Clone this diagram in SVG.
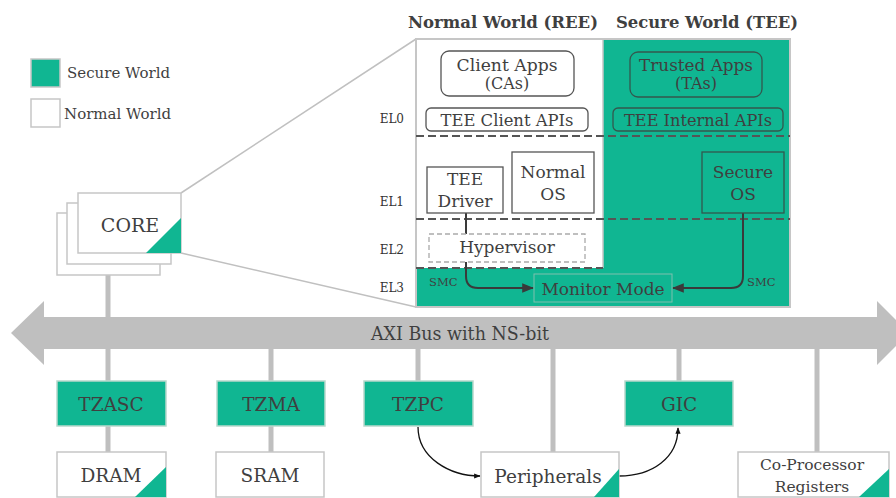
<svg xmlns="http://www.w3.org/2000/svg" width="896" height="498" viewBox="0 0 896 498">
<defs>
<style>
text{font-family:"DejaVu Serif","Liberation Serif",serif;fill:#3f3f3f}
.g{fill:#10b692}
.box{fill:#fff;stroke:#c6c6c6;stroke-width:1.5}
.gbox{fill:#10b692;stroke:#b8d8cc;stroke-width:1.5}
.nb{fill:#fff;stroke:#555;stroke-width:1.3}
.sb{fill:none;stroke:#33584e;stroke-width:1.3}
.dash{stroke:#555;stroke-width:2.2;stroke-dasharray:8 4;fill:none}
.conn{stroke:#bfbfbf;stroke-width:5;fill:none}
.zoom{stroke:#c0c0c0;stroke-width:1.5;fill:none}
.t18{font-size:18.5px}
.t16{font-size:17px}
.t15{font-size:16px}
.el{font-size:12px;fill:#333}
.hdr{font-size:16px;font-weight:bold}
</style>
<marker id="ah" viewBox="0 0 10 10" refX="9" refY="5" markerWidth="6" markerHeight="6" orient="auto"><path d="M0,1 L10,5 L0,9 z" fill="#3a3a3a"/></marker>
<marker id="ahk" viewBox="0 0 10 10" refX="9" refY="5" markerWidth="5" markerHeight="5" orient="auto"><path d="M0,1 L10,5 L0,9 z" fill="#111"/></marker>
</defs>

<g id="legend">
<rect x="31" y="59" width="29" height="28" class="g" stroke="#c6c6c6" stroke-width="1.5"/>
<text x="67" y="78" font-size="15">Secure World</text>
<rect x="31" y="99" width="29" height="28" fill="#fff" stroke="#c6c6c6" stroke-width="1.5"/>
<text x="64" y="119" font-size="15">Normal World</text>
</g>

<g id="connectors">
<line x1="181" y1="193" x2="416" y2="39" class="zoom"/>
<line x1="181" y1="253" x2="416" y2="307" class="zoom"/>
<line x1="108" y1="275" x2="108" y2="318" class="conn"/>
<line x1="108" y1="348" x2="108" y2="381" class="conn"/>
<line x1="108" y1="426" x2="108" y2="452" class="conn"/>
<line x1="271" y1="348" x2="271" y2="381" class="conn"/>
<line x1="271" y1="426" x2="271" y2="452" class="conn"/>
<line x1="418" y1="348" x2="418" y2="381" class="conn"/>
<line x1="553" y1="348" x2="553" y2="452" class="conn"/>
<line x1="679" y1="348" x2="679" y2="381" class="conn"/>
<line x1="817" y1="348" x2="817" y2="452" class="conn"/>
<path d="M418,427 C418,458 450,476 480,476" stroke="#111" stroke-width="1.3" fill="none" marker-end="url(#ahk)"/>
<path d="M619,476 C652,476 678,458 678,428" stroke="#111" stroke-width="1.3" fill="none" marker-end="url(#ahk)"/>
</g>

<g id="bus">
<polygon points="11,333 44,301 44,317 877,317 877,301 909,333 877,365 877,349 44,349 44,365" fill="#bfbfbf"/>
<text x="460" y="340" font-family="'DejaVu Sans','Liberation Sans',sans-serif" font-size="18" text-anchor="middle" textLength="178" lengthAdjust="spacingAndGlyphs">AXI Bus with NS-bit</text>
</g>

<g id="core">
<rect x="57" y="213" width="103" height="62" class="box"/>
<rect x="67" y="203" width="104" height="61" class="box"/>
<rect x="78" y="193" width="103" height="60" class="box"/>
<polygon points="181,218 181,253 146,253" class="g"/>
<text x="130" y="232" font-size="19" text-anchor="middle">CORE</text>
</g>

<g id="panel">
<rect x="416" y="39" width="374" height="268" fill="#fff"/>
<rect x="603" y="39" width="187" height="268" class="g"/>
<rect x="416" y="268" width="187" height="39" class="g"/>
<rect x="416" y="39" width="374" height="268" fill="none" stroke="#c6c6c6" stroke-width="2"/>
<line x1="603" y1="39" x2="603" y2="268" stroke="#c6c6c6" stroke-width="1.5"/>
<line x1="416" y1="136" x2="790" y2="136" class="dash"/>
<line x1="416" y1="219" x2="790" y2="219" class="dash"/>
<line x1="416" y1="268" x2="603" y2="268" class="dash"/>
<text x="503" y="28" class="hdr" text-anchor="middle" textLength="190" lengthAdjust="spacingAndGlyphs">Normal World (REE)</text>
<text x="707" y="28" class="hdr" text-anchor="middle" textLength="182" lengthAdjust="spacingAndGlyphs">Secure World (TEE)</text>
<text x="404" y="123" class="el" text-anchor="end">EL0</text>
<text x="404" y="206" class="el" text-anchor="end">EL1</text>
<text x="404" y="254" class="el" text-anchor="end">EL2</text>
<text x="404" y="292" class="el" text-anchor="end">EL3</text>
</g>

<g id="client-apps">
<rect x="441" y="51" width="133" height="45" rx="8" class="nb"/>
<text x="507" y="71" class="t15" text-anchor="middle" textLength="101" lengthAdjust="spacingAndGlyphs">Client Apps</text>
<text x="507" y="89" class="t15" text-anchor="middle">(CAs)</text>
</g>
<g id="tee-client-apis">
<rect x="426" y="108" width="162" height="23" rx="5" class="nb"/>
<text x="507" y="126" class="t16" text-anchor="middle" textLength="133" lengthAdjust="spacingAndGlyphs">TEE Client APIs</text>
</g>
<g id="trusted-apps">
<rect x="630" y="52" width="132" height="45" rx="8" class="sb"/>
<text x="696" y="71" class="t15" text-anchor="middle" textLength="114" lengthAdjust="spacingAndGlyphs">Trusted Apps</text>
<text x="696" y="89" class="t15" text-anchor="middle">(TAs)</text>
</g>
<g id="tee-internal-apis">
<rect x="613" y="108" width="170" height="23" rx="5" class="sb"/>
<text x="698" y="126" class="t16" text-anchor="middle" textLength="148" lengthAdjust="spacingAndGlyphs">TEE Internal APIs</text>
</g>

<g id="smc-lines">
<path d="M466,213 V276 Q466,288 478,288 H533" stroke="#3a3a3a" stroke-width="2" fill="none" marker-end="url(#ah)"/>
<path d="M743,213 V276 Q743,288 731,288 H673" stroke="#3a3a3a" stroke-width="2" fill="none" marker-end="url(#ah)"/>
<text x="429" y="286" font-size="11.5">SMC</text>
<text x="747" y="286" font-size="11.5">SMC</text>
</g>

<g id="tee-driver">
<rect x="427" y="167" width="76" height="46" class="nb" stroke="#666"/>
<text x="465" y="185" class="t16" text-anchor="middle">TEE</text>
<text x="465" y="207" class="t16" text-anchor="middle">Driver</text>
</g>
<g id="normal-os">
<rect x="512" y="152" width="82" height="61" class="nb" stroke="#666"/>
<text x="553" y="178" class="t16" text-anchor="middle">Normal</text>
<text x="553" y="200" class="t16" text-anchor="middle">OS</text>
</g>
<g id="secure-os">
<rect x="702" y="152" width="82" height="61" class="sb"/>
<text x="743" y="178" class="t16" text-anchor="middle">Secure</text>
<text x="743" y="200" class="t16" text-anchor="middle">OS</text>
</g>
<g id="hypervisor">
<rect x="429" y="234" width="156" height="28" fill="#fff" stroke="#aaa" stroke-width="1.3" stroke-dasharray="5 3"/>
<text x="507" y="253" class="t16" text-anchor="middle">Hypervisor</text>
</g>
<g id="monitor-mode">
<rect x="534" y="274" width="138" height="28" fill="none" stroke="#7fbfae" stroke-width="1"/>
<text x="603" y="295" class="t16" text-anchor="middle">Monitor Mode</text>
</g>

<g id="tzasc"><rect x="57" y="381" width="109" height="45" class="gbox"/><text x="111" y="411" class="t18" text-anchor="middle">TZASC</text></g>
<g id="tzma"><rect x="217" y="381" width="108" height="45" class="gbox"/><text x="271" y="411" class="t18" text-anchor="middle">TZMA</text></g>
<g id="tzpc"><rect x="364" y="381" width="109" height="45" class="gbox"/><text x="418" y="411" class="t18" text-anchor="middle">TZPC</text></g>
<g id="gic"><rect x="625" y="381" width="108" height="45" class="gbox"/><text x="679" y="411" class="t18" text-anchor="middle">GIC</text></g>

<g id="dram"><rect x="57" y="452" width="109" height="45" class="box"/><polygon points="166,467 166,497 135,497" class="g"/><text x="111" y="482" class="t18" text-anchor="middle">DRAM</text></g>
<g id="sram"><rect x="216" y="452" width="108" height="45" class="box"/><text x="270" y="482" class="t18" text-anchor="middle">SRAM</text></g>
<g id="peripherals"><rect x="481" y="452" width="138" height="45" class="box"/><polygon points="619,469 619,497 594,497" class="g"/><text x="548" y="483" class="t18" text-anchor="middle">Peripherals</text></g>
<g id="coprocessor"><rect x="738" y="452" width="151" height="45" class="box"/><polygon points="889,469 889,497 859,497" class="g"/><text x="812" y="470" font-size="15.5" text-anchor="middle">Co-Processor</text><text x="812" y="492" font-size="15.5" text-anchor="middle">Registers</text></g>
</svg>
